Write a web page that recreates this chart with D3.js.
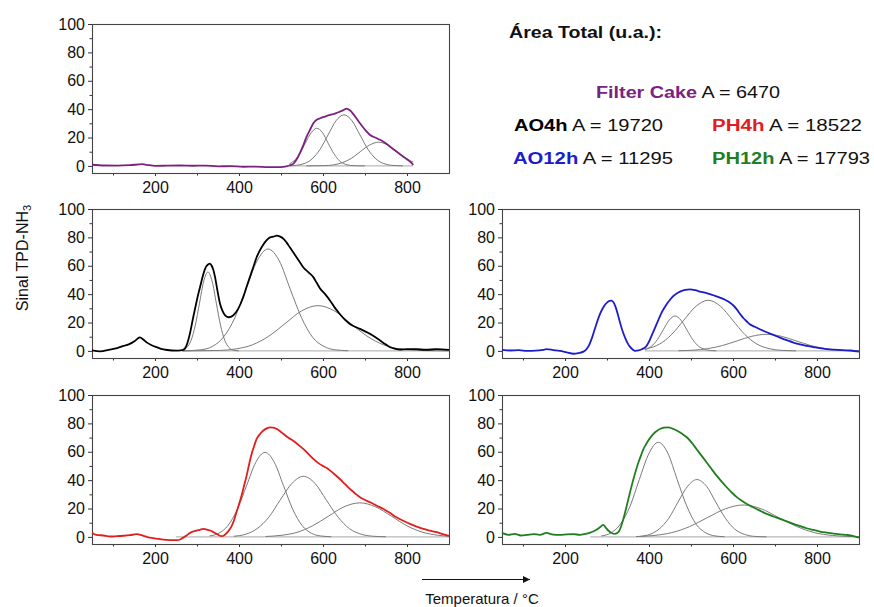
<!DOCTYPE html>
<html>
<head>
<meta charset="utf-8">
<script src="https://cdn.jsdelivr.net/npm/d3@7"></script>
<style>
  body { margin: 0; background: #fff; }
  svg { display: block; font-family: "Liberation Sans", Arial, sans-serif; }
</style>
</head>
<body>
<svg id="chart" width="874" height="607"></svg>
<script>
// axis ticks
const xMajor = [200, 400, 600, 800];
const xMinor = [100, 300, 500, 700];
const yMajor = [0, 20, 40, 60, 80, 100];
const yMinor = [10, 30, 50, 70, 90];

// legend
const sampleNames = ["Filter Cake", "AO4h", "PH4h", "AO12h", "PH12h"];
const sampleAreas = [6470, 19720, 18522, 11295, 17793];

// TPD signal, [temperature °C, signal]
const filterCakeSignal = [[50,0.8],[80,0.3],[110,0.2],[140,0.5],[170,1.2],[180,0.8],[200,0],[230,0.2],[260,0.3],[290,0.1],[320,0.2],[350,-0.3],[380,-0.2],[410,-0.6],[440,-0.5],[470,-0.9],[500,-0.8],[520,0.3],[529,1.4],[541,6.6],[551,13],[561,20.6],[570,26],[577,30],[585,32.5],[593,33.6],[605,34.8],[617,35.9],[630,37],[640,38.2],[650,39.5],[656,40.4],[664,39.2],[676,35],[688,30],[700,25.5],[712,21.8],[728,19.5],[744,17.1],[760,13.5],[775,10.1],[790,6.8],[805,3.5],[815,0.7]];

const ao4hSignal = [[50,0.3],[70,-0.3],[90,0.8],[110,2],[125,3.5],[140,5],[152,7],[164,9.6],[172,8],[180,6],[192,4],[204,2.6],[220,1],[240,0.3],[255,0.2],[267,0.7],[275,3.8],[283,12],[291,23.7],[297,32],[303,40],[309,47],[315,54],[321,59],[327,61],[331,61.5],[335,60],[339,57],[343,52],[349,42],[355,33],[361,28],[367,25],[375,23.7],[386,25],[398,29.6],[410,37.8],[418,45],[426,52],[434,59],[442,66],[450,71],[458,75],[466,78],[474,80],[482,80.5],[490,81.2],[498,80.5],[506,79],[513,76.5],[521,73],[529,69.5],[537,66],[545,62.5],[553,59],[565,55.5],[577,52],[585,48],[593,44],[605,40],[617,35.4],[628,30.5],[640,26],[652,22],[664,19],[676,17],[688,15.5],[700,13.8],[712,12],[724,9.8],[736,7.3],[748,4.8],[760,2.6],[772,1.5],[783,1],[800,1.3],[823,1.2],[845,0.8],[870,1.2],[900,0.7]];

const ao12hSignal = [[50,0.8],[70,0.3],[90,0.5],[110,0],[130,0.2],[148,0.8],[156,1.2],[172,0.6],[188,0],[204,-1],[220,-2],[232,-1.5],[244,-0.5],[252,1.5],[258,4.5],[264,9],[270,14.5],[276,20],[282,25],[288,29],[294,32],[300,34],[306,35.2],[311,35.5],[316,34],[321,30.5],[326,25.5],[331,20],[337,14],[343,9.4],[349,5.5],[355,2.8],[361,1],[367,0],[375,0.3],[383,1.2],[390,2.3],[394,3.5],[400,6.5],[406,10.6],[412,14.7],[418,18.8],[424,23],[430,27],[436,30],[442,32.9],[450,36],[458,38.7],[466,40.5],[474,41.8],[486,43],[498,43.4],[510,42.8],[521,41.8],[533,41],[545,40],[557,38.8],[569,37.6],[581,36],[593,34],[601,32],[609,29.3],[617,26],[625,23],[633,20.7],[640,18.8],[652,17],[664,15.3],[676,13.7],[688,12.2],[700,10.8],[712,9.4],[728,7.6],[744,5.9],[760,4.6],[775,3.5],[791,2.7],[807,1.9],[823,1.3],[839,0.9],[860,0.5],[880,0.3],[900,-0.5]];

const ph4hSignal = [[50,3],[60,1.5],[77,1],[93,0.3],[109,0.5],[125,0.8],[140,1.2],[156,1.9],[172,0.8],[188,-0.5],[204,-1.2],[220,-1.9],[236,-2.2],[252,-2.3],[260,-1.8],[267,-0.5],[275,1],[283,2.8],[291,3.8],[299,4.5],[307,5],[315,5.6],[323,5.2],[331,4.5],[339,3.4],[347,2.1],[353,1],[359,0.5],[365,1.2],[371,2.8],[377,5],[383,8],[389,12.5],[394,17.4],[400,23],[406,29],[412,36],[418,43],[424,51],[430,58.5],[436,64],[442,69],[450,72.5],[458,75],[466,76.5],[474,77.2],[482,77],[490,76],[498,74.5],[506,72.5],[517,70],[529,67.8],[541,65],[553,62],[565,58.5],[577,55],[589,52],[601,49.8],[609,48.5],[617,46.7],[628,44],[640,40.8],[652,37.3],[664,33.8],[676,30.8],[688,28],[700,26],[712,24.4],[728,22],[744,19.7],[760,16.8],[775,13.8],[791,11.4],[807,9.2],[823,7.3],[839,5.6],[855,4.4],[871,3.3],[885,2],[900,0.7]];

const ph12hSignal = [[50,2.8],[65,1.5],[80,2.2],[95,1],[109,1.4],[125,2],[140,1.5],[156,2.8],[172,1.6],[188,1.4],[204,1.8],[220,1.9],[236,1.5],[252,2.3],[260,3],[267,3.8],[275,5],[283,6.8],[291,8.5],[297,6.5],[303,4.5],[311,2.8],[319,2.1],[327,3.3],[333,7],[339,12.7],[345,19.5],[351,26.8],[357,34],[363,40.8],[369,47],[375,52.6],[381,57.5],[387,62],[393,65.3],[398,67.8],[404,70.3],[410,72.5],[418,74.5],[426,76],[436,77],[446,77.2],[456,76.3],[466,75],[478,72.8],[490,70.2],[502,66.3],[513,62],[525,57.3],[537,52.6],[549,47.8],[561,43.2],[573,39],[585,35],[597,31.3],[609,28],[621,25.5],[633,23.2],[645,21.3],[656,19.7],[668,17.9],[680,16.2],[696,14.4],[712,12.7],[728,10.9],[744,9.2],[760,7.6],[775,6.1],[791,4.9],[807,3.8],[823,3],[839,2.3],[855,1.8],[871,1.4],[885,0.8],[900,-0.5]];

// fitted peaks, [temperature °C, signal]
const filterCakePeaks = [
  [[520,1.5],[531,3.6],[545,8.6],[558,16.1],[572,23.4],[585,26.5],[599,23.4],[612,16.1],[626,8.6],[639,3.6],[653,1.2],[666,0.3],[680,0.1],[700,0]],
  [[520,0.1],[536,0.4],[555,1.6],[574,4.9],[593,11.7],[612,21.8],[631,31.8],[650,36],[669,31.8],[688,21.8],[707,11.7],[726,4.9],[745,1.6],[764,0.4],[790,0.05]],
  [[560,0],[603,0.2],[625,0.7],[646,2.3],[668,5.4],[689,10.1],[711,14.7],[732,16.7],[754,14.7],[775,10.1],[797,5.4],[815,2.6]]
];
const ao4hPeaks = [
  [[266,0.6],[276,2.4],[286,7.5],[296,18.1],[306,33.7],[316,49.1],[326,55.6],[336,49.1],[346,33.7],[356,18.1],[366,7.5],[376,2.4],[386,0.6],[400,0]],
  [[265,0],[310,0.8],[337,3.2],[363,9.7],[390,23.3],[416,43.5],[443,63.4],[469,71.8],[496,63.4],[522,43.5],[549,23.3],[575,9.7],[602,3.2],[628,0.8],[660,0.1]],
  [[265,0],[354,0.35],[393,1.4],[432,4.3],[471,10.4],[510,19.3],[549,28.2],[588,31.9],[627,28.2],[666,19.3],[705,10.4],[744,4.3],[783,1.4],[822,0.35],[860,0.1],[900,0]]
];
const ao12hPeaks = [
  [[390,0.9],[406,3.3],[420,8],[434,14.9],[448,21.7],[462,24.6],[476,21.7],[490,14.9],[504,8],[518,3.3],[532,1.1],[546,0.3],[560,0.05]],
  [[390,1.2],[396,1.6],[425,4.8],[454,11.6],[483,21.7],[512,31.5],[541,35.7],[570,31.5],[599,21.7],[628,11.6],[657,4.8],[686,1.6],[715,0.4],[750,0.05]],
  [[470,0.13],[505,0.5],[540,1.6],[575,3.8],[610,7.1],[645,10.3],[680,11.7],[715,10.3],[750,7.1],[785,3.8],[820,1.6],[855,0.5],[890,0.13],[900,0.1]]
];
const ph4hPeaks = [
  [[330,0.7],[352,2.6],[374,8.1],[396,19.4],[418,36.1],[440,52.6],[462,59.6],[484,52.6],[506,36.1],[528,19.4],[550,8.1],[572,2.6],[594,0.7],[620,0.1]],
  [[388,0.5],[416,1.9],[443,5.8],[471,13.9],[498,25.9],[526,37.7],[553,42.7],[581,37.7],[608,25.9],[636,13.9],[663,5.8],[691,1.9],[718,0.5],[750,0.1]],
  [[463,0.3],[500,1.1],[538,3.2],[575,7.8],[613,14.6],[650,21.2],[688,24],[725,21.2],[763,14.6],[800,7.8],[838,3.2],[875,1.1],[900,0.44]]
];
const ph12hPeaks = [
  [[287,0.7],[310,2.9],[332,9],[355,21.7],[377,40.5],[400,58.9],[422,66.7],[445,58.9],[467,40.5],[490,21.7],[512,9],[535,2.9],[557,0.7],[580,0.1]],
  [[379,0.4],[402,1.8],[424,5.5],[447,13.1],[469,24.5],[492,35.7],[514,40.4],[537,35.7],[559,24.5],[582,13.1],[604,5.5],[627,1.8],[649,0.4],[680,0.05]],
  [[369,0.25],[412,1],[454,3],[497,7.3],[539,13.6],[582,19.8],[624,22.5],[667,19.8],[709,13.6],[752,7.3],[794,3],[837,1],[879,0.25],[900,0.13]]
];

// fit window (baseline) of each sample
const filterCakeFitRange = [520, 815];
const ao4hFitRange = [265, 900];
const ao12hFitRange = [390, 900];
const ph4hFitRange = [250, 900];
const ph12hFitRange = [260, 900];

const panels = [
  { signal: filterCakeSignal, peaks: filterCakePeaks, fit: filterCakeFitRange, color: "#7b2180", left: 92, top: 24 },
  { signal: ao4hSignal, peaks: ao4hPeaks, fit: ao4hFitRange, color: "#000000", left: 92, top: 209 },
  { signal: ao12hSignal, peaks: ao12hPeaks, fit: ao12hFitRange, color: "#1c1ccc", left: 502, top: 209 },
  { signal: ph4hSignal, peaks: ph4hPeaks, fit: ph4hFitRange, color: "#e11d1d", left: 92, top: 395 },
  { signal: ph12hSignal, peaks: ph12hPeaks, fit: ph12hFitRange, color: "#1f7f1f", left: 502, top: 395 }
];

const panelW = 357, panelH = 149;
const svg = d3.select("#chart");

svg.append("rect").attr("width", 874).attr("height", 607).attr("fill", "#fff");

panels.forEach(p => {
  const x = d3.scaleLinear().domain([50, 900]).range([p.left, p.left + panelW]);
  const y = d3.scaleLinear().domain([-5, 100]).range([p.top + panelH, p.top]);
  const g = svg.append("g");

  // y axis
  g.append("g")
    .attr("transform", `translate(${p.left},0)`)
    .call(d3.axisLeft(y).tickValues(yMajor).tickSize(4).tickPadding(3));
  g.append("g")
    .attr("transform", `translate(${p.left},0)`)
    .call(d3.axisLeft(y).tickValues(yMinor).tickSize(2.5).tickFormat(""));

  // x axis
  g.append("g")
    .attr("transform", `translate(0,${p.top + panelH})`)
    .call(d3.axisBottom(x).tickValues(xMajor).tickSize(3).tickPadding(6));
  g.append("g")
    .attr("transform", `translate(0,${p.top + panelH})`)
    .call(d3.axisBottom(x).tickValues(xMinor).tickSize(2.5).tickFormat(""));

  g.selectAll(".domain").remove();
  g.selectAll(".tick line").attr("stroke", "#333");
  g.selectAll(".tick text")
    .attr("fill", "#111")
    .style("font-size", "16px")
    .style("font-family", "'Liberation Sans', Arial, sans-serif");

  // frame
  g.append("rect")
    .attr("x", p.left + 0.5).attr("y", p.top + 0.5)
    .attr("width", panelW).attr("height", panelH)
    .attr("fill", "none").attr("stroke", "#444").attr("stroke-width", 1.1);

  const line = d3.line().x(d => x(d[0])).y(d => y(d[1])).curve(d3.curveMonotoneX);

  // baseline of the fit
  g.append("line")
    .attr("x1", x(p.fit[0])).attr("x2", x(p.fit[1]))
    .attr("y1", y(0)).attr("y2", y(0))
    .attr("stroke", "#a8a8a8").attr("stroke-width", 1);

  // fitted peaks
  g.selectAll(".peak").data(p.peaks).enter().append("path")
    .attr("class", "peak")
    .attr("d", line)
    .attr("fill", "none")
    .attr("stroke", "#7a7a7a")
    .attr("stroke-width", 1);

  // measured signal
  g.append("path")
    .datum(p.signal)
    .attr("d", line)
    .attr("fill", "none")
    .attr("stroke", p.color)
    .attr("stroke-width", 1.8)
    .attr("stroke-linejoin", "round");
});

// y title
svg.append("text")
  .attr("transform", "translate(28,258) rotate(-90)")
  .attr("text-anchor", "middle")
  .style("font-size", "16px")
  .attr("fill", "#111")
  .html('Sinal TPD-NH<tspan dy="3" font-size="11px">3</tspan>');

// x title with arrow
svg.append("defs").append("marker")
  .attr("id", "arrow").attr("viewBox", "0 0 10 10")
  .attr("refX", 10).attr("refY", 5)
  .attr("markerWidth", 14).attr("markerHeight", 7)
  .attr("markerUnits", "userSpaceOnUse")
  .attr("orient", "auto")
  .append("path").attr("d", "M0,0L10,5L0,10Z").attr("fill", "#111");
svg.append("line")
  .attr("x1", 422).attr("x2", 530).attr("y1", 579.5).attr("y2", 579.5)
  .attr("stroke", "#111").attr("stroke-width", 1.2)
  .attr("marker-end", "url(#arrow)");
svg.append("text")
  .attr("x", 482).attr("y", 604)
  .attr("text-anchor", "middle")
  .style("font-size", "15px")
  .attr("fill", "#111")
  .text("Temperatura / °C");

// legend
const legendColors = ["#7b2180", "#000000", "#e11d1d", "#1c1ccc", "#1f7f1f"];
const legendPos = [[596, 98, 184], [514, 131, 149], [712, 131, 150], [513, 164, 160], [712, 164, 158]];

svg.append("text")
  .attr("x", 509).attr("y", 38)
  .attr("textLength", 153).attr("lengthAdjust", "spacingAndGlyphs")
  .style("font-size", "16px").style("font-weight", "bold")
  .attr("fill", "#111")
  .text("Área Total (u.a.):");

sampleNames.forEach((name, i) => {
  const [lx, ly, lw] = legendPos[i];
  const t = svg.append("text")
    .attr("x", lx).attr("y", ly)
    .attr("textLength", lw).attr("lengthAdjust", "spacingAndGlyphs")
    .style("font-size", "16px")
    .attr("fill", "#111");
  t.append("tspan").attr("fill", legendColors[i]).style("font-weight", "bold").text(name);
  t.append("tspan").text(" A = " + sampleAreas[i]);
});
</script>
</body>
</html>
